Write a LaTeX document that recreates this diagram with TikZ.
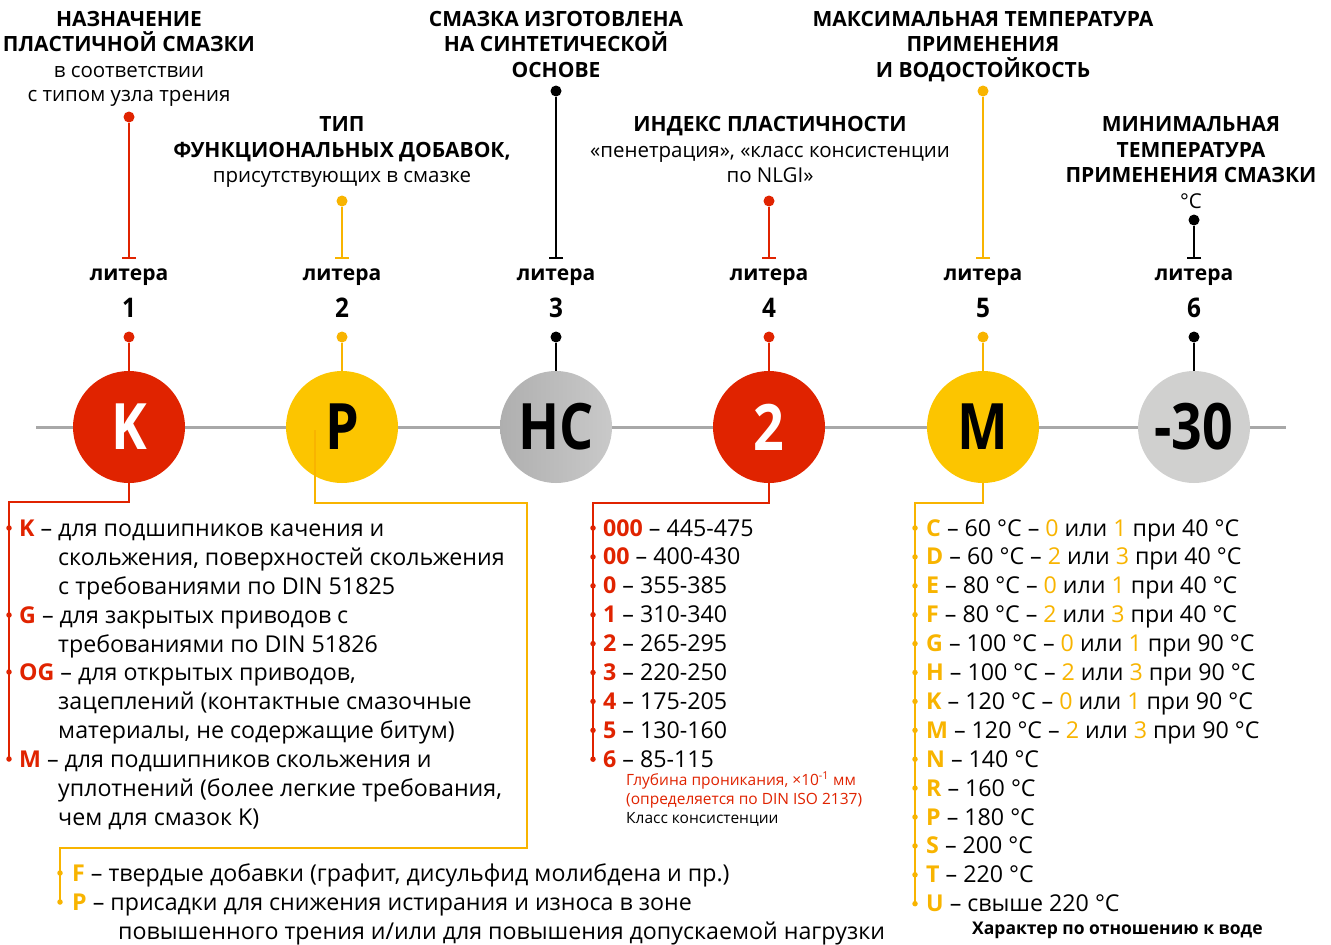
\documentclass[tikz,border=0pt]{standalone}
\usepackage{fontspec}
\setmainfont{Open Sans}
\usetikzlibrary{arrows.meta}
\definecolor{cred}{HTML}{E02300}
\definecolor{cyel}{HTML}{FCC500}
\definecolor{clin}{HTML}{F8B400}
\definecolor{cgA}{HTML}{AFAFAF}
\definecolor{cgB}{HTML}{C9C9C9}
\definecolor{cgC}{HTML}{D0D0CF}
\definecolor{caxis}{HTML}{A8A8A8}
\newcommand{\cnd}[2][0.84]{\scalebox{#1}[1]{#2}}
\newcommand{\rl}[1]{\textcolor{cred}{\bfseries #1}}
\newcommand{\yl}[1]{\textcolor{clin}{\bfseries #1}}
\newcommand{\yn}[1]{\textcolor{clin}{#1}}
\begin{document}
\begin{tikzpicture}[x=1pt,y=-1pt,
  bigc/.style={circle, minimum size=112pt, inner sep=0pt, font=\fontsize{64}{64}\selectfont\bfseries},
  hdr/.style={anchor=base, inner sep=0pt, font=\fontsize{21}{24}\selectfont\bfseries},
  sub/.style={anchor=base, inner sep=0pt, font=\fontsize{20.5}{23}\selectfont},
  lit/.style={anchor=base, inner sep=0pt, font=\fontsize{21}{24}\selectfont\bfseries},
  num/.style={anchor=base, inner sep=0pt, font=\fontsize{27}{30}\selectfont\bfseries},
  item/.style={anchor=base west, inner sep=0pt, font=\fontsize{23.2}{26}\selectfont},
  note/.style={anchor=base west, inner sep=0pt, font=\fontsize{15.5}{17}\selectfont},
  conn/.style={line width=2.5pt},
  dot/.style={circle, fill, inner sep=0pt, minimum size=11pt},
  bul/.style={circle, fill, inner sep=0pt, minimum size=5.5pt}]
\useasboundingbox (0,0) rectangle (1331,945);
\fill[white] (0,0) rectangle (1331,945);

% axis
\coordinate (axL) at (36,427);
\coordinate (axR) at (1286,427);
\draw[caxis, line width=3pt] (axL) -- (axR);

% circles
\node[bigc, fill=cred, text=white] (c1) at (129,427) {\cnd{K}};
\node[bigc, fill=cyel] (c2) at (342,427) {\cnd{P}};
\node[bigc, left color=cgA, right color=cgB] (c3) at (556,427) {\cnd{HC}};
\node[bigc, fill=cred, text=white] (c4) at (769,427) {\cnd{2}};
\node[bigc, fill=cyel] (c5) at (983,427) {\cnd{M}};
\node[bigc, fill=cgC] (c6) at (1194,427) {\cnd{-30}};

% headers
\node[hdr] (h1a) at (129,26) {НАЗНАЧЕНИЕ};
\node[hdr] (h1b) at (129,51) {ПЛАСТИЧНОЙ СМАЗКИ};
\node[sub] (h1c) at (129,77) {в соответствии};
\node[sub] (h1d) at (129,101) {с типом узла трения};

\node[hdr] (h2a) at (342,131) {ТИП};
\node[hdr] (h2b) at (342,157) {ФУНКЦИОНАЛЬНЫХ ДОБАВОК,};
\node[sub] (h2c) at (342,182) {присутствующих в смазке};

\node[hdr] (h3a) at (556,26) {СМАЗКА ИЗГОТОВЛЕНА};
\node[hdr] (h3b) at (556,51) {НА СИНТЕТИЧЕСКОЙ};
\node[hdr] (h3c) at (556,77) {ОСНОВЕ};

\node[hdr] (h4a) at (770,131) {ИНДЕКС ПЛАСТИЧНОСТИ};
\node[sub] (h4b) at (770,157) {«пенетрация», «класс консистенции};
\node[sub] (h4c) at (770,182) {по NLGI»};

\node[hdr] (h5a) at (983,26) {МАКСИМАЛЬНАЯ ТЕМПЕРАТУРА};
\node[hdr] (h5b) at (983,51) {ПРИМЕНЕНИЯ};
\node[hdr] (h5c) at (983,77) {И ВОДОСТОЙКОСТЬ};

\node[hdr] (h6a) at (1191,131) {МИНИМАЛЬНАЯ};
\node[hdr] (h6b) at (1191,157) {ТЕМПЕРАТУРА};
\node[hdr] (h6c) at (1191,182) {ПРИМЕНЕНИЯ СМАЗКИ};
\node[sub] (h6d) at (1191,208) {°C};

% top connectors
\foreach \i/\x/\hy/\col in {1/129/117/cred, 2/342/201/clin, 3/556/91/black, 4/769/201/cred, 5/983/91/clin, 6/1194/220/black}{
  \node[dot, \col] (hd\i) at (\x,\hy) {};
  \coordinate (bt\i) at (\x,259);
  \draw[conn, \col, {Bar[width=14pt]}-] (bt\i) -- (hd\i);
  \node[lit] (lt\i) at (\x,280) {литера};
  \node[num] (n\i) at (\x,317) {\cnd[0.9]{\i}};
  \node[dot, \col] (ld\i) at (\x,337) {};
  \draw[conn, \col] (ld\i) -- (c\i);
}

% left list
\node[item] (l1) at (19,536) {\rl{K} – для подшипников качения и};
\node[item] (l2) at (58,565) {скольжения, поверхностей скольжения};
\node[item] (l3) at (58,594) {с требованиями по DIN 51825};
\node[item] (l4) at (19,623) {\rl{G} – для закрытых приводов с};
\node[item] (l5) at (58,652) {требованиями по DIN 51826};
\node[item] (l6) at (19,680) {\rl{OG} – для открытых приводов,};
\node[item] (l7) at (58,709) {зацеплений (контактные смазочные};
\node[item] (l8) at (58,738) {материалы, не содержащие битум)};
\node[item] (l9) at (19,767) {\rl{M} – для подшипников скольжения и};
\node[item] (l10) at (58,796) {уплотнений (более легкие требования,};
\node[item] (l11) at (58,825) {чем для смазок K)};
\node[bul, cred] (bl1) at (9,528) {};
\node[bul, cred] (bl2) at (9,615) {};
\node[bul, cred] (bl3) at (9,672) {};
\node[bul, cred] (bl4) at (9,759) {};
\coordinate (k1) at (9,502);
\draw[conn, cred] (c1.south) |- (k1) -- (bl4.center);

% middle list
\foreach \j/\a/\b [evaluate=\j as \yy using 536+28.9*(\j-1)] in {1/000/445-475, 2/00/400-430, 3/0/355-385, 4/1/310-340, 5/2/265-295, 6/3/220-250, 7/4/175-205, 8/5/130-160, 9/6/85-115}{
  \node[item] (m\j) at (603,\yy) {\rl{\a} – \b};
  \node[bul, cred] (bm\j) at (593,\yy-8) {};
}
\coordinate (k4) at (593,503);
\draw[conn, cred] (c4.south) |- (k4) -- (bm9.center);
\node[note, text=cred] (nt1) at (626,785) {Глубина проникания, ×10\textsuperscript{-1} мм};
\node[note, text=cred] (nt2) at (626,804) {(определяется по DIN ISO 2137)};
\node[note] (nt3) at (626,823) {Класс консистенции};

% right list
\node[item] (r1) at (926,536.0) {\yl{C} – 60 °C – \yn{0} или \yn{1} при 40 °C};
\node[item] (r2) at (926,564.9) {\yl{D} – 60 °C – \yn{2} или \yn{3} при 40 °C};
\node[item] (r3) at (926,593.8) {\yl{E} – 80 °C – \yn{0} или \yn{1} при 40 °C};
\node[item] (r4) at (926,622.7) {\yl{F} – 80 °C – \yn{2} или \yn{3} при 40 °C};
\node[item] (r5) at (926,651.6) {\yl{G} – 100 °C – \yn{0} или \yn{1} при 90 °C};
\node[item] (r6) at (926,680.5) {\yl{H} – 100 °C – \yn{2} или \yn{3} при 90 °C};
\node[item] (r7) at (926,709.4) {\yl{K} – 120 °C – \yn{0} или \yn{1} при 90 °C};
\node[item] (r8) at (926,738.3) {\yl{M} – 120 °C – \yn{2} или \yn{3} при 90 °C};
\node[item] (r9) at (926,767.2) {\yl{N} – 140 °C};
\node[item] (r10) at (926,796.1) {\yl{R} – 160 °C};
\node[item] (r11) at (926,825.0) {\yl{P} – 180 °C};
\node[item] (r12) at (926,853.9) {\yl{S} – 200 °C};
\node[item] (r13) at (926,882.8) {\yl{T} – 220 °C};
\node[item] (r14) at (926,911.7) {\yl{U} – свыше 220 °C};
\foreach \j [evaluate=\j as \yy using 528+28.9*(\j-1)] in {1,...,14}{
  \node[bul, clin] (br\j) at (915,\yy) {};
}
\coordinate (k5) at (915,503);
\draw[conn, clin] (c5.south) |- (k5) -- (br14.center);
\node[anchor=base west, inner sep=0pt, font=\fontsize{17.5}{20}\selectfont\bfseries] (wt) at (972,934) {Характер по отношению к воде};

% bottom list
\node[item] (f1) at (72,881) {\yl{F} – твердые добавки (графит, дисульфид молибдена и пр.)};
\node[item] (f2) at (72,910) {\yl{P} – присадки для снижения истирания и износа в зоне};
\node[item] (f3) at (118,939) {повышенного трения и/или для повышения допускаемой нагрузки};
\node[bul, clin] (bb1) at (60,873) {};
\node[bul, clin] (bb2) at (60,902) {};
\coordinate (p0) at (315,430);
\coordinate (p1) at (527,503);
\coordinate (p2) at (60,848);
\draw[conn, clin] (p0) |- (p1) |- (p2) -- (bb2.center);
\end{tikzpicture}
\end{document}
